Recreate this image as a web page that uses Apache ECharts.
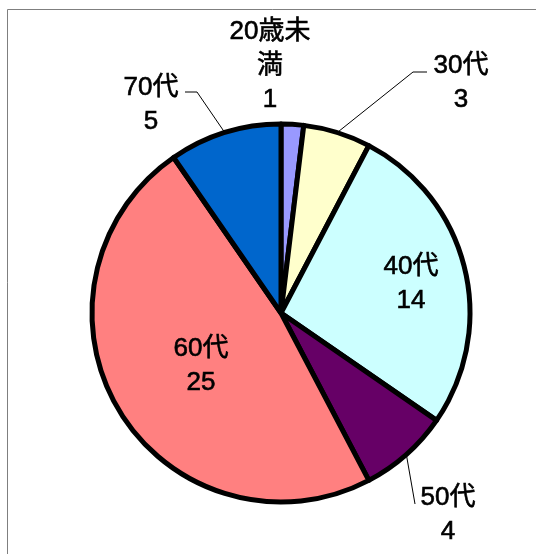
<!DOCTYPE html>
<html>
<head>
<meta charset="utf-8">
<script src="https://cdn.jsdelivr.net/npm/echarts@6/dist/echarts.min.js"></script>
<style>
html,body{margin:0;padding:0;background:#fff;}
#chart{width:536px;height:554px;}
</style>
</head>
<body>
<div id="chart"></div>
<script>
// ---- data ----
const categories = ['20歳未満', '30代', '40代', '50代', '60代', '70代'];
const values = [1, 3, 14, 4, 25, 5];
const colors = ['#9999FF', '#FFFFCC', '#CCFFFF', '#660066', '#FF8080', '#0066CC'];

// ---- label layout (positions of label blocks and leader bends) ----
const labelLayoutCfg = [
  { x: 270, y: 66, line: null },
  { x: 461, y: 83, line: [[413, 72], [427, 72]] },
  { x: 411, y: 284, line: null },
  { x: 448, y: 515, line: [[415, 504], [415, 504]] },
  { x: 201, y: 366, line: null },
  { x: 151, y: 105, line: [[197, 92], [185, 92]] }
];

const CX = 281, CY = 313, R = 189;
const total = values.reduce((a, b) => a + b, 0);
function edgePoint(i) {
  let before = 0;
  for (let k = 0; k < i; k++) before += values[k];
  const mid = (before + values[i] / 2) / total * Math.PI * 2;
  return [CX + R * Math.sin(mid), CY - R * Math.cos(mid)];
}

const chart = echarts.init(document.getElementById('chart'), null, { renderer: 'canvas' });
const data = categories.map((c, i) => ({
  name: c,
  value: values[i],
  itemStyle: { color: colors[i] },
  labelLine: { show: !!labelLayoutCfg[i].line }
}));

chart.setOption({
  animation: false,
  backgroundColor: '#fff',
  graphic: [{
    type: 'rect',
    shape: { x: 7.5, y: 9.5, width: 1000, height: 1000 },
    style: { fill: 'none', stroke: '#7f7f7f', lineWidth: 1 },
    silent: true,
    z: -10
  }],
  series: [{
    type: 'pie',
    center: [CX, CY],
    radius: R,
    startAngle: 90,
    clockwise: true,
    avoidLabelOverlap: false,
    data: data,
    itemStyle: { borderColor: '#000', borderWidth: 5 },
    emphasis: { disabled: true },
    label: {
      show: true,
      position: 'outside',
      color: '#000',
      fontSize: 26,
      lineHeight: 34,
      textBorderColor: '#000',
      textBorderWidth: 0.6,
      fontFamily: "'Liberation Sans', 'Noto Sans CJK JP', sans-serif",
      formatter: function (p) {
        const n = p.name === '20歳未満' ? '20歳未\n満' : p.name;
        return n + '\n' + p.value;
      }
    },
    labelLine: {
      show: true,
      length: 10,
      length2: 10,
      lineStyle: { color: '#000', width: 1 }
    },
    labelLayout: function (params) {
      const L = labelLayoutCfg[params.dataIndex];
      const res = { x: L.x, y: L.y, align: 'center', verticalAlign: 'middle' };
      if (L.line) {
        let p0 = params.labelLinePoints && params.labelLinePoints[0];
        if (!p0) p0 = edgePoint(params.dataIndex);
        res.labelLinePoints = [p0, L.line[0], L.line[1]];
      }
      return res;
    }
  }]
});
</script>
</body>
</html>
